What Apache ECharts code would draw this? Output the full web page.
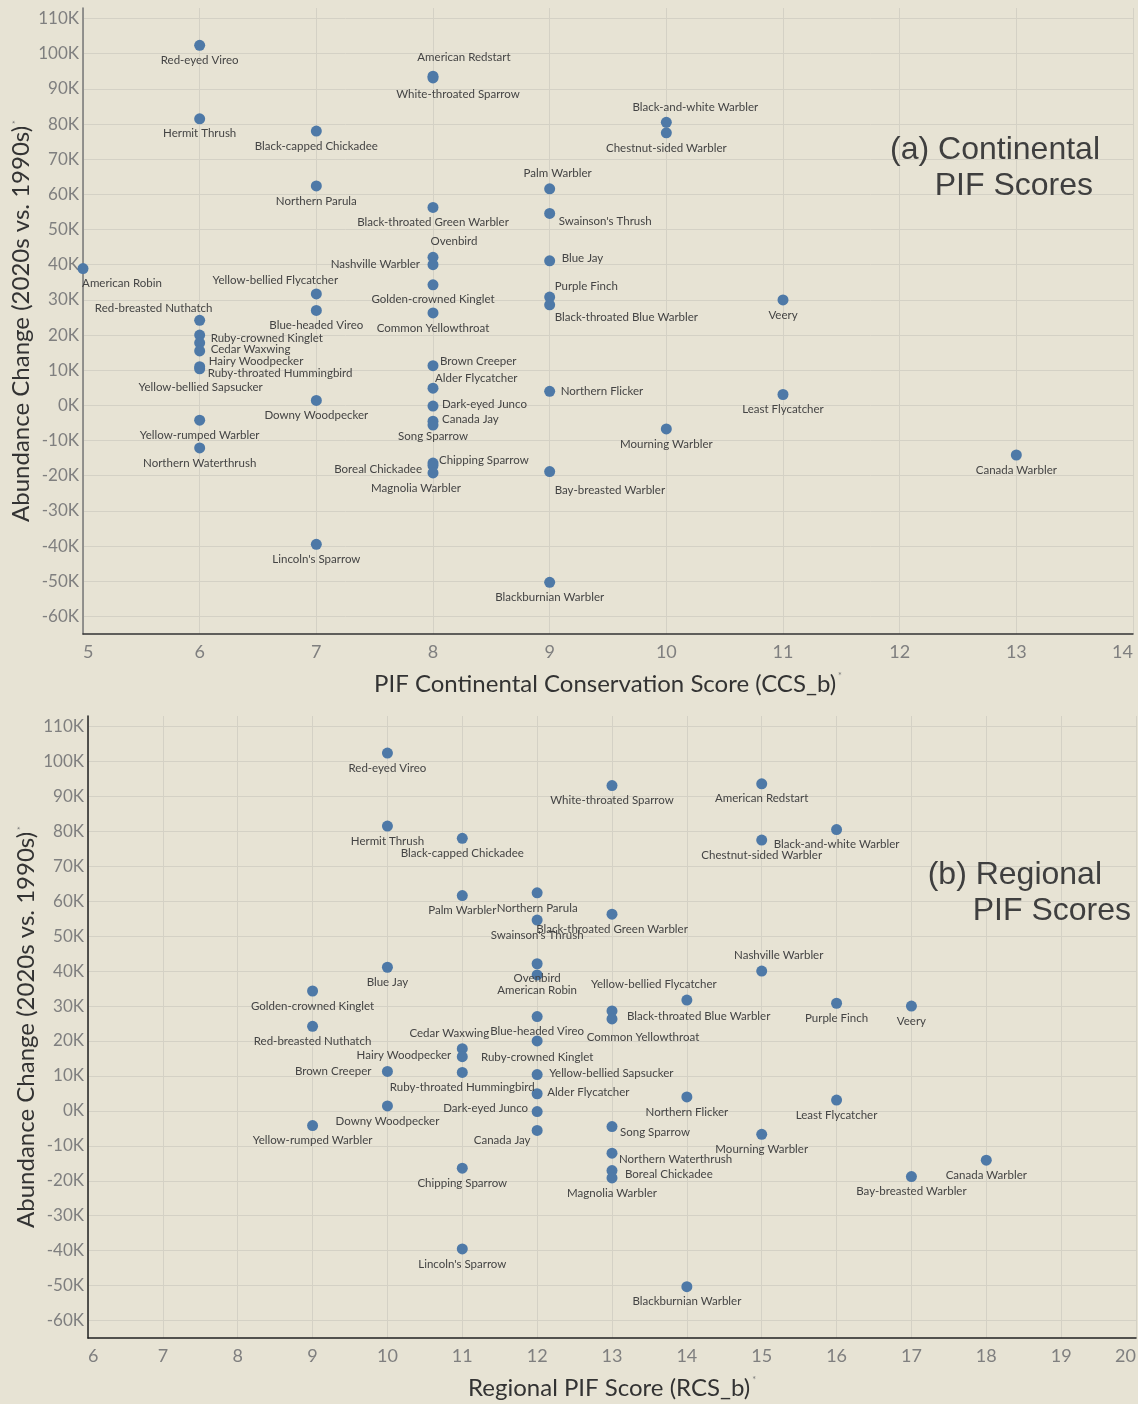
<!DOCTYPE html>
<html>
<head>
<meta charset="utf-8">
<script src="https://cdn.jsdelivr.net/npm/echarts@6/dist/echarts.min.js"></script>
<style>
  html, body { margin: 0; padding: 0; background: #e7e3d4; }
  #chart { width: 1138px; height: 1404px; }
</style>
</head>
<body>
<div id="chart"></div>
<script>
const species = [
  'Red-eyed Vireo', 'American Redstart', 'White-throated Sparrow', 'Hermit Thrush',
  'Black-capped Chickadee', 'Black-and-white Warbler', 'Chestnut-sided Warbler', 'Northern Parula',
  'Palm Warbler', 'Black-throated Green Warbler', "Swainson's Thrush", 'Ovenbird',
  'Nashville Warbler', 'Blue Jay', 'American Robin', 'Yellow-bellied Flycatcher',
  'Golden-crowned Kinglet', 'Purple Finch', 'Veery', 'Black-throated Blue Warbler',
  'Blue-headed Vireo', 'Common Yellowthroat', 'Red-breasted Nuthatch', 'Ruby-crowned Kinglet',
  'Cedar Waxwing', 'Hairy Woodpecker', 'Brown Creeper', 'Ruby-throated Hummingbird',
  'Yellow-bellied Sapsucker', 'Alder Flycatcher', 'Northern Flicker', 'Least Flycatcher',
  'Downy Woodpecker', 'Dark-eyed Junco', 'Yellow-rumped Warbler', 'Song Sparrow',
  'Canada Jay', 'Mourning Warbler', 'Northern Waterthrush', 'Canada Warbler',
  'Chipping Sparrow', 'Boreal Chickadee', 'Magnolia Warbler', 'Bay-breasted Warbler',
  "Lincoln's Sparrow", 'Blackburnian Warbler'
];
// PIF Continental Conservation Score (CCS_b)
const ccsScore = [
  6, 8, 8, 6, 7, 10, 10, 7, 9, 8, 9, 8, 8, 9, 5, 7, 8, 9, 11, 9, 7, 8, 6, 6,
  6, 6, 8, 6, 6, 8, 9, 11, 7, 8, 6, 8, 8, 10, 6, 13, 8, 8, 8, 9, 7, 9
];
// Regional PIF Score (RCS_b)
const rcsScore = [
  10, 15, 13, 10, 11, 16, 15, 12, 11, 13, 12, 12, 15, 10, 12, 14, 9, 16, 17, 13, 12, 13, 9, 12,
  11, 11, 10, 11, 12, 12, 14, 16, 10, 12, 9, 13, 12, 15, 13, 18, 11, 13, 13, 17, 11, 14
];
// Abundance change, 2020s vs. 1990s
const abundanceChange = [
  102400, 93600, 93100, 81500, 78000, 80500, 77500, 62400, 61600, 56300, 54600, 42100,
  40000, 41100, 38900, 31700, 34300, 30800, 30000, 28600, 27000, 26300, 24200, 20000,
  17800, 15500, 11300, 11000, 10400, 4900, 4000, 3100, 1400, -200, -4200, -4500,
  -5600, -6700, -12100, -14100, -16400, -17100, -19200, -18800, -39500, -50300
];
const yTicks = [-60000, -50000, -40000, -30000, -20000, -10000, 0, 10000, 20000, 30000,
  40000, 50000, 60000, 70000, 80000, 90000, 100000, 110000];

// where each label sits: [align, dx, dy] from the dot centre
// c = centred on dx, l = text starts at dx, r = text ends at dx
const ccsLabelPlace = {
  'American Redstart': ['c', 31, -19],
  'White-throated Sparrow': ['c', 25, 16],
  'Black-and-white Warbler': ['c', 29, -15],
  'Palm Warbler': ['c', 8, -15],
  "Swainson's Thrush": ['l', 9, 8],
  'Ovenbird': ['c', 21, -16],
  'Nashville Warbler': ['r', -13, 0],
  'Blue Jay': ['l', 12, -3],
  'American Robin': ['c', 39, 15],
  'Yellow-bellied Flycatcher': ['c', -41, -14],
  'Purple Finch': ['l', 5, -11],
  'Black-throated Blue Warbler': ['l', 5, 12],
  'Red-breasted Nuthatch': ['c', -46, -12],
  'Ruby-crowned Kinglet': ['l', 11, 3],
  'Cedar Waxwing': ['l', 11, 6],
  'Hairy Woodpecker': ['l', 9, 10],
  'Ruby-throated Hummingbird': ['l', 8, 7],
  'Yellow-bellied Sapsucker': ['c', 1, 18],
  'Brown Creeper': ['l', 7, -4],
  'Alder Flycatcher': ['l', 2, -10],
  'Northern Flicker': ['l', 11, 0],
  'Dark-eyed Junco': ['l', 9, -2],
  'Canada Jay': ['l', 9, -6],
  'Chipping Sparrow': ['l', 6, -3],
  'Boreal Chickadee': ['r', -11, 4],
  'Magnolia Warbler': ['c', -17, 15],
  'Bay-breasted Warbler': ['l', 5, 19]
};
const rcsLabelPlace = {
  'Nashville Warbler': ['c', 17, -16],
  'Black-throated Blue Warbler': ['l', 15, 5],
  'Common Yellowthroat': ['c', 31, 18],
  'Yellow-bellied Flycatcher': ['c', -33, -16],
  'Cedar Waxwing': ['c', -13, -15],
  'Hairy Woodpecker': ['r', -11, -1],
  'Brown Creeper': ['r', -16, 0],
  'Ruby-crowned Kinglet': ['c', 0, 16],
  'Yellow-bellied Sapsucker': ['l', 12, -1],
  'Alder Flycatcher': ['l', 10, -1],
  'Dark-eyed Junco': ['r', -9, -3],
  'Song Sparrow': ['l', 8, 6],
  'Canada Jay': ['c', -35, 10],
  'Northern Waterthrush': ['l', 7, 6],
  'Boreal Chickadee': ['l', 13, 4]
};

const dotColor = '#4e79a7';
const gridColor = '#d4d1c5';
const tickColor = '#7f7f7f';
const titleColor = '#333333';
const font = 'Lato';
const alignOf = { c: 'center', l: 'left', r: 'right' };

function buildData(scores, place) {
  return species.map((name, i) => {
    const p = place[name] || ['c', 0, 15];
    return {
      name: name,
      value: [scores[i], abundanceChange[i]],
      label: { align: alignOf[p[0]], offset: [p[1], p[2]] }
    };
  });
}

function xAxisOf(idx, min, max, title, lineColor) {
  return {
    gridIndex: idx,
    type: 'value',
    min: min,
    max: max,
    interval: 1,
    axisLine: { show: true, onZero: false, lineStyle: { color: lineColor, width: 1.5 } },
    axisTick: { show: false },
    axisLabel: {
      color: tickColor, fontSize: 18, fontFamily: font, margin: 9,
      alignMinLabel: 'left', alignMaxLabel: 'right'
    },
    splitLine: { show: true, lineStyle: { color: gridColor, width: 1 } },
    name: title + '{m|*}',
    nameLocation: 'middle',
    nameGap: 38,
    nameTextStyle: {
      color: titleColor, fontSize: 24, fontFamily: font,
      rich: { m: { fontSize: 9, color: '#777', verticalAlign: 'top', padding: [0, 0, 9, 2] } }
    }
  };
}

function yAxisOf(idx, lineColor) {
  return {
    gridIndex: idx,
    type: 'value',
    min: -65000,
    max: 113000,
    axisLine: { show: true, onZero: false, lineStyle: { color: lineColor, width: 1.5 } },
    axisTick: { show: false, customValues: yTicks },
    axisLabel: {
      customValues: yTicks,
      color: tickColor, fontSize: 17, fontFamily: font, margin: 4,
      formatter: v => (v / 1000) + 'K'
    },
    splitLine: { show: true, lineStyle: { color: gridColor, width: 1 } },
    name: 'Abundance Change (2020s vs. 1990s){m|*}',
    nameLocation: 'middle',
    nameRotate: 90,
    nameGap: 50,
    nameMoveOverlap: false,
    nameTextStyle: {
      color: titleColor, fontSize: 24, fontFamily: font,
      rich: { m: { fontSize: 9, color: '#777', padding: [0, 0, 9, 2] } }
    }
  };
}

function seriesOf(idx, scores, place) {
  return {
    type: 'scatter',
    xAxisIndex: idx,
    yAxisIndex: idx,
    symbolSize: 11,
    itemStyle: { color: dotColor, opacity: 1 },
    label: {
      show: true,
      position: 'inside',
      formatter: '{b}',
      color: '#444444',
      fontSize: 11.5,
      fontFamily: font,
      verticalAlign: 'middle'
    },
    emphasis: { disabled: true },
    data: buildData(scores, place)
  };
}

function cornerText(text, x, y) {
  return {
    type: 'text',
    x: x,
    y: y,
    z: 100,
    style: {
      text: text,
      fill: '#3f3f3f',
      font: '32px "Liberation Sans", Arial, sans-serif',
      textAlign: 'right',
      textVerticalAlign: 'middle'
    }
  };
}

const chart = echarts.init(document.getElementById('chart'));
chart.setOption({
  backgroundColor: '#e7e3d4',
  animation: false,
  grid: [
    { left: 83, top: 8, width: 1050, height: 626, containLabel: false, outerBoundsMode: 'none' },
    { left: 88, top: 716, width: 1048, height: 622, containLabel: false, outerBoundsMode: 'none' }
  ],
  xAxis: [
    xAxisOf(0, 5, 14, 'PIF Continental Conservation Score (CCS_b)', '#333'),
    xAxisOf(1, 6, 20, 'Regional PIF Score (RCS_b)', '#222')
  ],
  yAxis: [yAxisOf(0, '#777'), yAxisOf(1, '#222')],
  series: [seriesOf(0, ccsScore, ccsLabelPlace), seriesOf(1, rcsScore, rcsLabelPlace)],
  graphic: [
    cornerText('(a) Continental', 1100, 150),
    cornerText('PIF Scores', 1093, 186),
    cornerText('(b) Regional', 1102, 875),
    cornerText('PIF Scores', 1131, 911)
  ]
});
</script>
</body>
</html>
